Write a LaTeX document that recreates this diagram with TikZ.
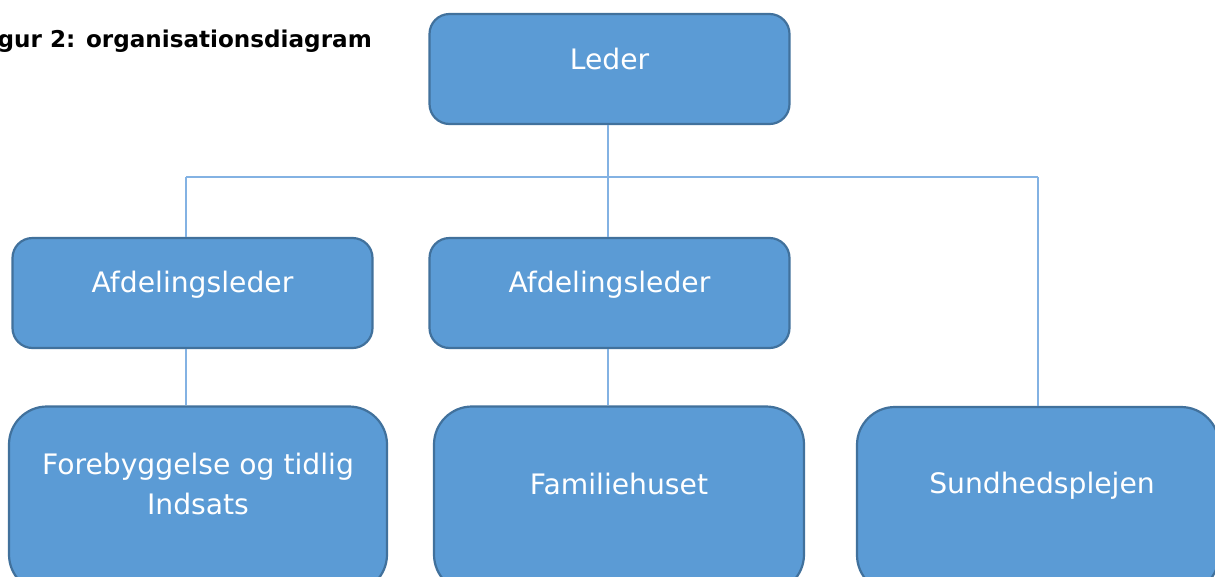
\documentclass[tikz,border=0pt]{standalone}
\usepackage{fontspec}
\setmainfont{DejaVu Sans}
\definecolor{boxfill}{RGB}{91,155,213}
\definecolor{boxline}{RGB}{65,113,156}
\definecolor{conn}{RGB}{131,178,227}
\tikzset{
  orgbox/.style={draw=boxline, line width=2.2pt, fill=boxfill, inner sep=0pt},
  topbox/.style={orgbox, rounded corners=20pt, minimum width=360pt, minimum height=110pt},
  lowbox/.style={orgbox, rounded corners=38pt, minimum height=186pt},
  boxtext/.style={text=white, inner sep=0pt, font=\fontsize{28.2}{40}\selectfont, align=center},
  connector/.style={draw=conn, line width=2.4pt},
  titletext/.style={inner sep=0pt, font=\fontsize{23.1}{28}\selectfont\bfseries}
}
\begin{document}
\begin{tikzpicture}[x=1pt,y=-1pt]
\useasboundingbox (0,0) rectangle (1215,576);
\clip (0,0) rectangle (1215,576);
\fill[white] (0,0) rectangle (1215,576);
% junction coordinates
\coordinate (hl) at (186,177);
\coordinate (hr) at (1038,177);
\coordinate (mx) at (608,177);
% boxes
\node[topbox] (leder) at (609.5,69) {};
\node[topbox] (afd1) at (192.5,293) {};
\node[topbox] (afd2) at (609.5,293) {};
\node[lowbox, minimum width=378pt] (fore) at (198,499.5) {};
\node[lowbox, minimum width=370pt] (fam) at (619,499.5) {};
\node[lowbox, minimum width=362pt] (sund) at (1038,500) {};
% connectors
\draw[connector] (mx |- leder.south) -- (mx |- afd2.north);
\draw[connector] (hl) -- (hr);
\draw[connector] (hl) -- (hl |- afd1.north);
\draw[connector] (hr) -- (hr |- sund.north);
\draw[connector] (hl |- afd1.south) -- (hl |- fore.north);
\draw[connector] (mx |- afd2.south) -- (mx |- fam.north);
% texts
\node[boxtext, anchor=base] (leder-t) at (609.5,69) {Leder};
\node[boxtext, anchor=base] (afd1-t) at (192.5,292) {Afdelingsleder};
\node[boxtext, anchor=base] (afd2-t) at (609.5,292) {Afdelingsleder};
\node[boxtext, anchor=base] (fore-t1) at (198,474) {Forebyggelse og tidlig};
\node[boxtext, anchor=base] (fore-t2) at (198,514) {Indsats};
\node[boxtext, anchor=base] (fam-t) at (619,494) {Familiehuset};
\node[boxtext, anchor=base] (sund-t) at (1042,493) {Sundhedsplejen};
\node[titletext, anchor=base east] (title) at (372,47) {gur 2: organisationsdiagram};
\end{tikzpicture}
\end{document}
